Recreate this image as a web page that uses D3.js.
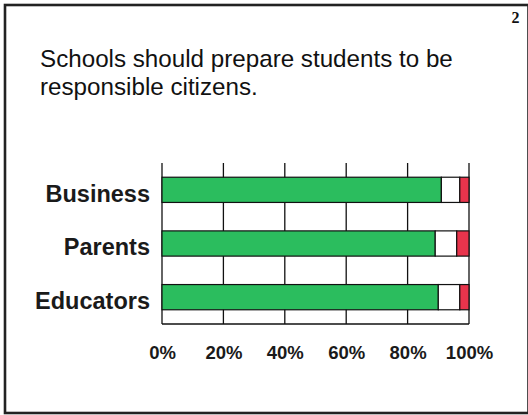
<!DOCTYPE html>
<html>
<head>
<meta charset="utf-8">
<script src="https://cdn.jsdelivr.net/npm/d3@7"></script>
<style>
  html, body { margin: 0; padding: 0; background: #fff; }
  svg { display: block; }
</style>
</head>
<body>
<svg id="chart" width="528" height="415"></svg>
<script>
// Survey groups and their shares (percent) for agree / neutral / disagree
const categories = ["Business", "Parents", "Educators"];
const agree    = [91, 89, 90];
const neutral  = [6, 7, 7];
const disagree = [3, 4, 3];
const tickValues = [0, 20, 40, 60, 80, 100];
const tickLabels = ["0%", "20%", "40%", "60%", "80%", "100%"];
const titleLines = ["Schools should prepare students to be", "responsible citizens."];
const pageNumber = "2";

const seriesKeys = ["agree", "neutral", "disagree"];
const seriesColors = { agree: "#2bbd5e", neutral: "#ffffff", disagree: "#e8344c" };

const rows = categories.map((c, i) => ({
  category: c, agree: agree[i], neutral: neutral[i], disagree: disagree[i]
}));

const svg = d3.select("#chart");
const W = 528, H = 415;

// slide frame
svg.append("rect")
  .attr("x", 5).attr("y", 5).attr("width", W - 4.5).attr("height", H - 7)
  .attr("fill", "#fff").attr("stroke", "#222").attr("stroke-width", 2.6);

svg.append("text")
  .attr("x", 519.5).attr("y", 23)
  .attr("text-anchor", "end")
  .attr("font-family", "Liberation Serif, serif")
  .attr("font-weight", "bold").attr("font-size", 16)
  .attr("fill", "#111")
  .text(pageNumber);

svg.append("g").selectAll("text").data(titleLines).join("text")
  .attr("x", 40).attr("y", (d, i) => 67 + i * 28)
  .attr("font-family", "Liberation Sans, Arial, sans-serif")
  .attr("font-size", 24.2)
  .attr("fill", "#111")
  .text(d => d);

const plot = { left: 162, right: 469, top: 163, bottom: 324 };

const x = d3.scaleLinear().domain([0, 100]).range([plot.left, plot.right]);
const y = d3.scaleBand().domain(categories).range([plot.top, plot.bottom]).paddingInner(0.53).paddingOuter(0.265);

// vertical grid lines
svg.append("g").selectAll("line").data(tickValues).join("line")
  .attr("x1", d => x(d)).attr("x2", d => x(d))
  .attr("y1", plot.top).attr("y2", plot.bottom)
  .attr("stroke", "#111").attr("stroke-width", 1.3);

// baseline
svg.append("line")
  .attr("x1", plot.left).attr("x2", plot.right)
  .attr("y1", plot.bottom).attr("y2", plot.bottom)
  .attr("stroke", "#111").attr("stroke-width", 1.3);

// stacked bars
const stacked = d3.stack().keys(seriesKeys)(rows);
svg.append("g").selectAll("g").data(stacked).join("g")
  .attr("fill", d => seriesColors[d.key])
  .selectAll("rect").data(d => d).join("rect")
  .attr("x", d => x(d[0]))
  .attr("width", d => x(d[1]) - x(d[0]))
  .attr("y", d => y(d.data.category))
  .attr("height", y.bandwidth())
  .attr("stroke", "#111").attr("stroke-width", 1.2);

// category labels
svg.append("g").selectAll("text").data(categories).join("text")
  .attr("x", 150).attr("y", d => y(d) + y.bandwidth() / 2)
  .attr("dy", "0.5em")
  .attr("text-anchor", "end")
  .attr("font-family", "Liberation Sans, Arial, sans-serif")
  .attr("font-weight", "bold").attr("font-size", 23.5)
  .attr("fill", "#1a1a1a")
  .text(d => d);

// x axis tick labels
const xAxis = d3.axisBottom(x).tickValues(tickValues)
  .tickFormat((d, i) => tickLabels[i]).tickSize(0).tickPadding(0);
const gx = svg.append("g").attr("transform", `translate(0,${plot.bottom})`).call(xAxis);
gx.select(".domain").remove();
gx.selectAll("text")
  .attr("y", 35).attr("dy", 0)
  .attr("font-family", "Liberation Sans, Arial, sans-serif")
  .attr("font-weight", "bold").attr("font-size", 18.5)
  .attr("fill", "#1a1a1a");
</script>
</body>
</html>
